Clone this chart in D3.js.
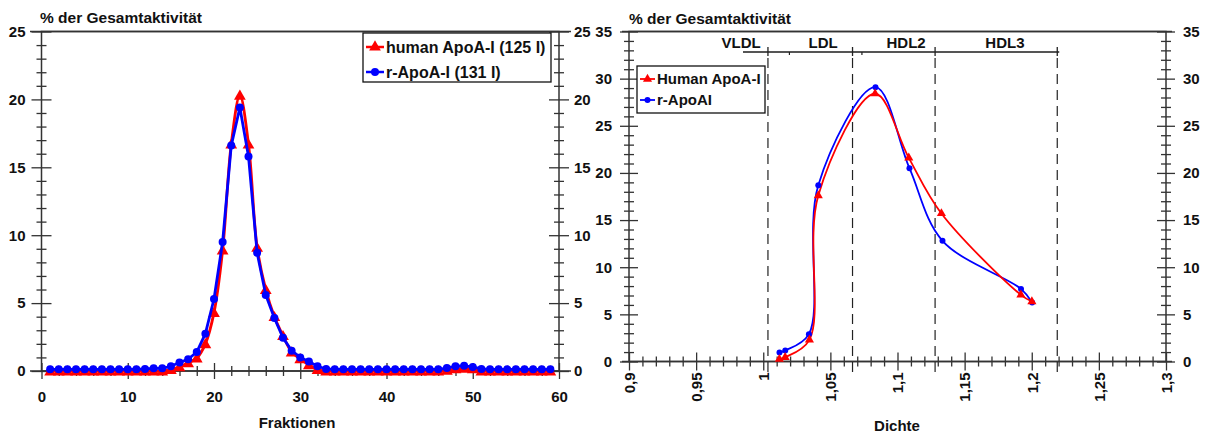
<!DOCTYPE html>
<html><head><meta charset="utf-8">
<script src="https://cdn.jsdelivr.net/npm/d3@7"></script>
<style>
body{margin:0;background:#fff;}
text{font-family:"Liberation Sans",Arial,sans-serif;font-weight:bold;fill:#111;}
</style></head><body>
<svg id="c" width="1209" height="437"></svg>
<script>
// ---------- DATA ----------
const fractions = d3.range(1, 60);
const humanFrac = [0,0,0,0,0,0,0,0,0,0,0,0,0,0,0.1,0.3,0.6,0.95,2.0,4.3,8.9,16.7,20.3,16.7,9.1,6.0,4.0,2.6,1.4,0.9,0.45,0.1,0,0,0,0,0,0,0,0,0,0,0,0,0,0,0.05,0.15,0.2,0.15,0,0,0,0,0,0,0,0,0];
const rFrac = [0.12,0.12,0.12,0.12,0.12,0.12,0.12,0.12,0.12,0.12,0.12,0.15,0.2,0.2,0.35,0.62,0.86,1.4,2.75,5.3,9.5,16.6,19.4,15.8,8.7,5.6,3.9,2.45,1.5,1.0,0.7,0.35,0.15,0.12,0.12,0.12,0.12,0.12,0.12,0.12,0.12,0.12,0.12,0.12,0.12,0.12,0.22,0.35,0.38,0.3,0.15,0.12,0.12,0.12,0.12,0.12,0.12,0.12,0.12];
const fracTicks = [0,10,20,30,40,50,60];
const pctTicksLeft = [0,5,10,15,20,25];

const humanDens = [1.012,1.0163,1.0344,1.041,1.0833,1.1084,1.1327,1.1919,1.2001];
const humanDensVal = [0.25,0.45,2.3,17.6,28.4,21.6,15.7,7.07,6.36];
const rDens = [1.0121,1.0164,1.034,1.041,1.0836,1.1089,1.1335,1.192,1.2003];
const rDensVal = [0.95,1.17,2.9,18.7,29.1,20.5,12.8,7.7,6.26];
const densTicks = [0.9,0.95,1,1.05,1.1,1.15,1.2,1.25,1.3];
const pctTicksRight = [0,5,10,15,20,25,30,35];
const boundaries = [1.0035,1.0665,1.128,1.219];
const fractionLabels = ["VLDL","LDL","HDL2","HDL3"];
const labelPos = [0.9835,1.0446,1.1064,1.180];

const title = "% der Gesamtaktivität";
const legendLeft = ["human ApoA-I (125 I)","r-ApoA-I (131 I)"];
const legendRight = ["Human ApoA-I","r-ApoAI"];
const RED = "#ff0000", BLUE = "#0000ff", AX = "#333";

const svg = d3.select("#c");
const deFmt = d3.formatLocale({decimal:",",thousands:".",grouping:[3],currency:["","€"]}).format("~g");

function crossTicks(g, size, vertical){
  g.selectAll(".tick line").attr(vertical?"x1":"y1",-size).attr(vertical?"x2":"y2",size).attr("stroke",AX).attr("stroke-width",1.3);
  g.select(".domain").remove();
}
function frame(x0,x1,y0,y1){
  svg.append("rect").attr("x",x0).attr("y",y0).attr("width",x1-x0).attr("height",y1-y0)
    .attr("fill","none").attr("stroke",AX).attr("stroke-width",1.5);
}

// ---------- LEFT CHART ----------
const xL = d3.scaleLinear().domain([0,60]).range([41.5,559]);
const yL = d3.scaleLinear().domain([0,25]).range([371,31.5]);
frame(41.5,559,31.5,371);
svg.append("line").attr("x1",30).attr("x2",571).attr("y1",31.5).attr("y2",31.5).attr("stroke",AX).attr("stroke-width",1.5);

let g = svg.append("g").attr("transform","translate(0,371)")
  .call(d3.axisBottom(xL).tickValues(d3.range(0,61,2).filter(v=>v%10)).tickFormat(""));
crossTicks(g,5,false);
g = svg.append("g").attr("transform","translate(0,371)")
  .call(d3.axisBottom(xL).tickValues(fracTicks).tickFormat(d3.format("d")).tickPadding(0));
crossTicks(g,8,false);
g.selectAll("text").attr("y",20).attr("font-size",15);
svg.append("line").attr("x1",30).attr("x2",571).attr("y1",371).attr("y2",371).attr("stroke",AX).attr("stroke-width",1.5);

[[41.5,"left"],[559,"right"]].forEach(([xp,side])=>{
  let gm = svg.append("g").attr("transform",`translate(${xp},0)`)
    .call((side==="left"?d3.axisLeft(yL):d3.axisRight(yL)).tickValues(d3.range(0,26).filter(v=>v%5)).tickFormat(""));
  crossTicks(gm,5,true);
  let gM = svg.append("g").attr("transform",`translate(${xp},0)`)
    .call((side==="left"?d3.axisLeft(yL):d3.axisRight(yL)).tickValues(pctTicksLeft).tickFormat(d3.format("d")));
  crossTicks(gM,10,true);
  gM.selectAll("text").attr("x",side==="left"?-16:15).attr("font-size",15);
});

svg.append("text").attr("x",40).attr("y",23).attr("font-size",15.5).text(title);
svg.append("text").attr("x",297).attr("y",428).attr("text-anchor","middle").attr("font-size",15).text("Fraktionen");

const triangle = d3.symbol().type(d3.symbolTriangle);
svg.append("path").datum(humanFrac).attr("fill","none").attr("stroke",RED).attr("stroke-width",2.8)
  .attr("d",d3.line().x((d,i)=>xL(fractions[i])).y(d=>yL(d)).curve(d3.curveCatmullRom.alpha(0.5)));
svg.append("g").selectAll("path").data(humanFrac).join("path")
  .attr("transform",(d,i)=>`translate(${xL(fractions[i])},${yL(d)+1})`)
  .attr("d",triangle.size(60)).attr("fill",RED);
svg.append("path").datum(rFrac).attr("fill","none").attr("stroke",BLUE).attr("stroke-width",2.8)
  .attr("d",d3.line().x((d,i)=>xL(fractions[i])).y(d=>yL(d)));
svg.append("g").selectAll("circle").data(rFrac).join("circle")
  .attr("cx",(d,i)=>xL(fractions[i])).attr("cy",d=>yL(d)).attr("r",4).attr("fill",BLUE);

svg.append("rect").attr("x",363).attr("y",33).attr("width",188).attr("height",49).attr("fill","#fff").attr("stroke","#111").attr("stroke-width",1.3);
legendLeft.forEach((t,i)=>{
  const cy = 47 + i*25;
  svg.append("line").attr("x1",366).attr("x2",384).attr("y1",cy).attr("y2",cy).attr("stroke",i?BLUE:RED).attr("stroke-width",2.5);
  if(i) svg.append("circle").attr("cx",375).attr("cy",cy).attr("r",4).attr("fill",BLUE);
  else svg.append("path").attr("transform",`translate(375,${cy})`).attr("d",triangle.size(60)).attr("fill",RED);
  svg.append("text").attr("x",386).attr("y",cy+5.5).attr("font-size",16).text(t);
});

// ---------- RIGHT CHART ----------
const xR = d3.scaleLinear().domain([0.9,1.3]).range([629,1166]);
const yR = d3.scaleLinear().domain([0,35]).range([361.5,31.5]);
frame(629,1166,31.5,361.5);
svg.append("line").attr("x1",622).attr("x2",1172).attr("y1",31.5).attr("y2",31.5).attr("stroke",AX).attr("stroke-width",1.5);
svg.append("line").attr("x1",622).attr("x2",1172).attr("y1",361.5).attr("y2",361.5).attr("stroke",AX).attr("stroke-width",1.5);

g = svg.append("g").attr("transform","translate(0,361.5)")
  .call(d3.axisBottom(xR).tickValues(d3.range(0,41).filter(k=>k%5).map(k=>0.9+k*0.01)).tickFormat(""));
crossTicks(g,5,false);
g = svg.append("g").attr("transform","translate(0,361.5)")
  .call(d3.axisBottom(xR).tickValues(densTicks).tickFormat(deFmt));
crossTicks(g,9,false);
g.selectAll("text").attr("transform","rotate(-90)").attr("x",-11).attr("y",0).attr("dy","0.35em")
  .style("text-anchor","end").attr("font-size",15);

[[629,"left"],[1166,"right"]].forEach(([xp,side])=>{
  let gm = svg.append("g").attr("transform",`translate(${xp},0)`)
    .call((side==="left"?d3.axisLeft(yR):d3.axisRight(yR)).tickValues(d3.range(0,36).filter(v=>v%5)).tickFormat(""));
  crossTicks(gm,5,true);
  let gM = svg.append("g").attr("transform",`translate(${xp},0)`)
    .call((side==="left"?d3.axisLeft(yR):d3.axisRight(yR)).tickValues(pctTicksRight).tickFormat(d3.format("d")));
  crossTicks(gM,9,true);
  gM.selectAll("text").attr("x",side==="left"?-17:17).attr("font-size",15);
});

svg.append("text").attr("x",629).attr("y",24).attr("font-size",15.5).text(title);
svg.append("text").attr("x",897).attr("y",431).attr("text-anchor","middle").attr("font-size",15).text("Dichte");

const by = 52;
svg.append("line").attr("x1",743).attr("x2",xR(boundaries[3])+2).attr("y1",by).attr("y2",by).attr("stroke","#555").attr("stroke-width",1.8);
boundaries.forEach(b=>{
  svg.append("line").attr("x1",xR(b)).attr("x2",xR(b)).attr("y1",by-5).attr("y2",by+4).attr("stroke","#222").attr("stroke-width",1.3);
  svg.append("line").attr("x1",xR(b)).attr("x2",xR(b)).attr("y1",by+6).attr("y2",373)
    .attr("stroke","#222").attr("stroke-width",1.2).attr("stroke-dasharray","10,6");
});
[1.0195,1.0735].forEach(b=>{
  svg.append("line").attr("x1",xR(b)).attr("x2",xR(b)).attr("y1",by).attr("y2",by+3).attr("stroke","#222").attr("stroke-width",1.2);
});
fractionLabels.forEach((t,i)=>{
  svg.append("text").attr("x",xR(labelPos[i])).attr("y",48).attr("text-anchor","middle").attr("font-size",15).text(t);
});

const curveR = d3.curveCatmullRom.alpha(0.5);
svg.append("path").datum(rDensVal).attr("fill","none").attr("stroke",BLUE).attr("stroke-width",1.8)
  .attr("d",d3.line().x((d,i)=>xR(rDens[i])).y(d=>yR(d)).curve(curveR));
svg.append("path").datum(humanDensVal).attr("fill","none").attr("stroke",RED).attr("stroke-width",1.8)
  .attr("d",d3.line().x((d,i)=>xR(humanDens[i])).y(d=>yR(d)).curve(curveR));
svg.append("g").selectAll("circle").data(rDensVal).join("circle")
  .attr("cx",(d,i)=>xR(rDens[i])).attr("cy",d=>yR(d)).attr("r",3).attr("fill",BLUE);
svg.append("g").selectAll("path").data(humanDensVal).join("path")
  .attr("transform",(d,i)=>`translate(${xR(humanDens[i])},${yR(d)})`)
  .attr("d",triangle.size(36)).attr("fill",RED);

svg.append("rect").attr("x",637).attr("y",66).attr("width",128).attr("height",47).attr("fill","#fff").attr("stroke","#111").attr("stroke-width",1.3);
legendRight.forEach((t,i)=>{
  const cy = 79 + i*21;
  svg.append("line").attr("x1",640).attr("x2",655).attr("y1",cy).attr("y2",cy).attr("stroke",i?BLUE:RED).attr("stroke-width",1.8);
  if(i) svg.append("circle").attr("cx",647.5).attr("cy",cy).attr("r",3).attr("fill",BLUE);
  else svg.append("path").attr("transform",`translate(647.5,${cy})`).attr("d",triangle.size(36)).attr("fill",RED);
  svg.append("text").attr("x",657).attr("y",cy+5).attr("font-size",15).text(t);
});
</script></body></html>
